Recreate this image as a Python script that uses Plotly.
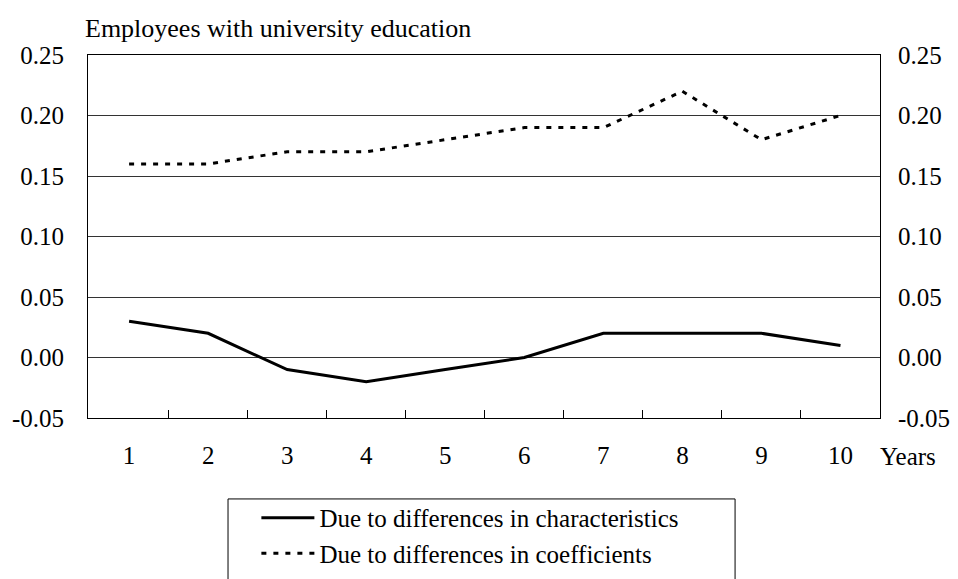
import plotly.graph_objects as go

years = [1, 2, 3, 4, 5, 6, 7, 8, 9, 10]
year_labels = ["1", "2", "3", "4", "5", "6", "7", "8", "9", "10"]
characteristics = [0.03, 0.02, -0.01, -0.02, -0.01, 0.00, 0.02, 0.02, 0.02, 0.01]
coefficients = [0.16, 0.16, 0.17, 0.17, 0.18, 0.19, 0.19, 0.22, 0.18, 0.20]
y_ticks = [-0.05, 0.00, 0.05, 0.10, 0.15, 0.20, 0.25]
y_labels = ["-0.05", "0.00", "0.05", "0.10", "0.15", "0.20", "0.25"]
minor_x = [1.5, 2.5, 3.5, 4.5, 5.5, 6.5, 7.5, 8.5, 9.5]

FONT = "Liberation Serif"
FS = 25

fig = go.Figure()
fig.add_trace(go.Scatter(x=years, y=characteristics, mode="lines",
                         name="Due to differences in characteristics",
                         line=dict(color="black", width=3)))
fig.add_trace(go.Scatter(x=years, y=coefficients, mode="lines",
                         name="Due to differences in coefficients",
                         line=dict(color="black", width=3, dash="5px,7px")))
fig.add_trace(go.Scatter(x=years, y=coefficients, mode="lines", yaxis="y2",
                         showlegend=False, hoverinfo="skip",
                         line=dict(color="rgba(0,0,0,0)", width=0)))

fig.update_layout(
    width=950, height=571,
    margin=dict(l=80, r=78, t=47, b=161, autoexpand=False),
    paper_bgcolor="white", plot_bgcolor="white",
    font=dict(family=FONT, size=FS, color="black"),
    xaxis=dict(range=[0.48, 10.5], tickmode="array", tickvals=years, ticktext=year_labels,
               ticks="", showgrid=False, zeroline=False, showline=True, linecolor="black",
               linewidth=1, mirror=True, ticklabelstandoff=15, automargin=False,
               minor=dict(tickmode="array", tickvals=minor_x, ticks="inside", ticklen=8,
                          tickcolor="black", showgrid=False)),
    yaxis=dict(range=[-0.05, 0.25], tickmode="array", tickvals=y_ticks, ticktext=y_labels,
               ticks="", showgrid=True, gridcolor="#333333", gridwidth=1, zeroline=False,
               showline=True, linecolor="black", linewidth=1, ticklabelstandoff=18,
               automargin=False),
    yaxis2=dict(range=[-0.05, 0.25], tickmode="array", tickvals=y_ticks, ticktext=y_labels,
                overlaying="y", side="right", ticks="", showgrid=False, zeroline=False,
                showline=True, linecolor="black", linewidth=1, ticklabelstandoff=12,
                automargin=False),
    showlegend=True,
    legend=dict(x=0.2126, y=-0.212, xanchor="left", yanchor="top",
                bgcolor="rgba(0,0,0,0)", borderwidth=0,
                font=dict(family=FONT, size=25), itemwidth=53, tracegroupgap=0),
    annotations=[
        dict(text="Employees with university education", x=-0.006, y=1.074,
             xref="paper", yref="paper", xanchor="left", yanchor="middle",
             showarrow=False, font=dict(family=FONT, size=26)),
        dict(text="Years", x=0.9975, y=-0.105, xref="paper", yref="paper",
             xanchor="left", yanchor="middle", showarrow=False,
             font=dict(family=FONT, size=FS)),
    ],
    shapes=[
        dict(type="rect", xref="paper", yref="paper", x0=0.1768, x1=0.817,
             y0=-0.223, y1=-0.6, line=dict(color="black", width=1)),
    ],
)

fig.write_html("out.html")
